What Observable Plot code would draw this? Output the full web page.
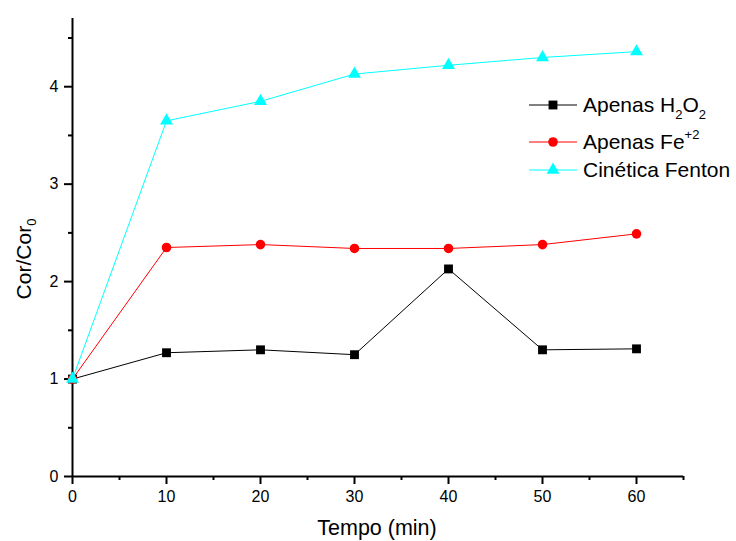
<!DOCTYPE html>
<html>
<head>
<meta charset="utf-8">
<script src="https://cdn.jsdelivr.net/npm/d3@7"></script>
<script src="https://cdn.jsdelivr.net/npm/@observablehq/plot@0.6"></script>
<style>
  html, body { margin: 0; padding: 0; background: #fff; }
  svg { font-family: "Liberation Sans", Arial, sans-serif; }
</style>
</head>
<body>
<div id="chart"></div>
<script>
const tempo = [0, 10, 20, 30, 40, 50, 60];
const apenasH2O2 = [1.0, 1.27, 1.30, 1.25, 2.13, 1.30, 1.31];
const apenasFe = [1.0, 2.35, 2.38, 2.34, 2.34, 2.38, 2.49];
const fenton = [1.0, 3.65, 3.85, 4.13, 4.22, 4.30, 4.36];
const xTicks = [0, 10, 20, 30, 40, 50, 60];
const yTicks = [0, 1, 2, 3, 4];

const seriesDefs = [
  {key: "h2o2", values: apenasH2O2, color: "#000000", symbol: "square", r: 5},
  {key: "fe", values: apenasFe, color: "#ff0000", symbol: "circle", r: 4.8},
  {key: "fenton", values: fenton, color: "#00ffff", symbol: "triangle", r: 4.8}
];

const marks = [];
for (const s of seriesDefs) {
  const data = tempo.map((t, i) => ({t, v: s.values[i]}));
  marks.push(Plot.line(data, {x: "t", y: "v", stroke: s.color, strokeWidth: 1}));
  marks.push(Plot.dot(data, {x: "t", y: "v", fill: s.color, stroke: "none", symbol: s.symbol, r: s.r}));
}

const chart = Plot.plot({
  width: 736,
  height: 541,
  marginLeft: 72,
  marginRight: 53,
  marginTop: 18,
  marginBottom: 65,
  style: {fontFamily: "'Liberation Sans', Arial, sans-serif", background: "#fff", color: "#000"},
  x: {domain: [0, 65]},
  y: {domain: [0, 4.7]},
  marks: [
    Plot.axisX({ticks: xTicks, tickSize: 8, tickPadding: 6, fontSize: 16, strokeWidth: 2, label: null, tickFormat: d => d}),
    Plot.axisX({ticks: d3.range(5, 66, 10), tickSize: 4, strokeWidth: 2, text: null, label: null}),
    Plot.axisY({ticks: yTicks, tickSize: 8, tickPadding: 6, fontSize: 16, strokeWidth: 2, label: null, tickFormat: d => d}),
    Plot.axisY({ticks: d3.range(0.5, 4.6, 1), tickSize: 4, strokeWidth: 2, text: null, label: null}),
    Plot.ruleX([0], {y1: 0, y2: 4.7, strokeWidth: 2}),
    Plot.ruleY([0], {x1: 0, x2: 65, strokeWidth: 2}),
    ...marks
  ]
});

const svg = d3.select(chart);

// Axis titles
svg.append("text")
  .attr("x", 377).attr("y", 535)
  .attr("text-anchor", "middle")
  .attr("font-size", 21.5)
  .attr("fill", "#000")
  .text("Tempo (min)");

const yl = svg.append("text")
  .attr("transform", "translate(31,259) rotate(-90)")
  .attr("text-anchor", "middle")
  .attr("font-size", 21)
  .attr("fill", "#000");
yl.append("tspan").text("Cor/Cor");
yl.append("tspan").attr("font-size", 13).attr("dy", 5).text("0");

// Legend
const legendRows = [
  {def: seriesDefs[0], y: 105, parts: [["Apenas H", 0], ["2", 1], ["O", 0], ["2", 1]]},
  {def: seriesDefs[1], y: 142, parts: [["Apenas Fe", 0], ["+2", -1]]},
  {def: seriesDefs[2], y: 170, parts: [["Cinética Fenton", 0]]}
];
const symMap = {square: d3.symbolSquare, circle: d3.symbolCircle, triangle: d3.symbolTriangle};
const lg = svg.append("g").attr("text-anchor", "start");
for (const row of legendRows) {
  const g = lg.append("g").attr("transform", `translate(0,${row.y})`);
  g.append("line").attr("x1", 529).attr("x2", 577).attr("y1", 0).attr("y2", 0)
    .attr("stroke", row.def.color).attr("stroke-width", 1);
  const area = Math.PI * row.def.r * row.def.r;
  g.append("path").attr("d", d3.symbol(symMap[row.def.symbol], area)())
    .attr("transform", "translate(553,0)")
    .attr("fill", row.def.color);
  const t = g.append("text").attr("x", 583).attr("y", 7).attr("font-size", 21)
    .attr("text-anchor", "start").attr("fill", "#000");
  let off = 0;
  for (const [str, shift] of row.parts) {
    const target = shift === 1 ? 7 : (shift === -1 ? -10 : 0);
    const ts = t.append("tspan").text(str);
    if (target !== off) ts.attr("dy", target - off);
    if (shift !== 0) ts.attr("font-size", 13);
    off = target;
  }
}

document.getElementById("chart").appendChild(chart);
</script>
</body>
</html>
